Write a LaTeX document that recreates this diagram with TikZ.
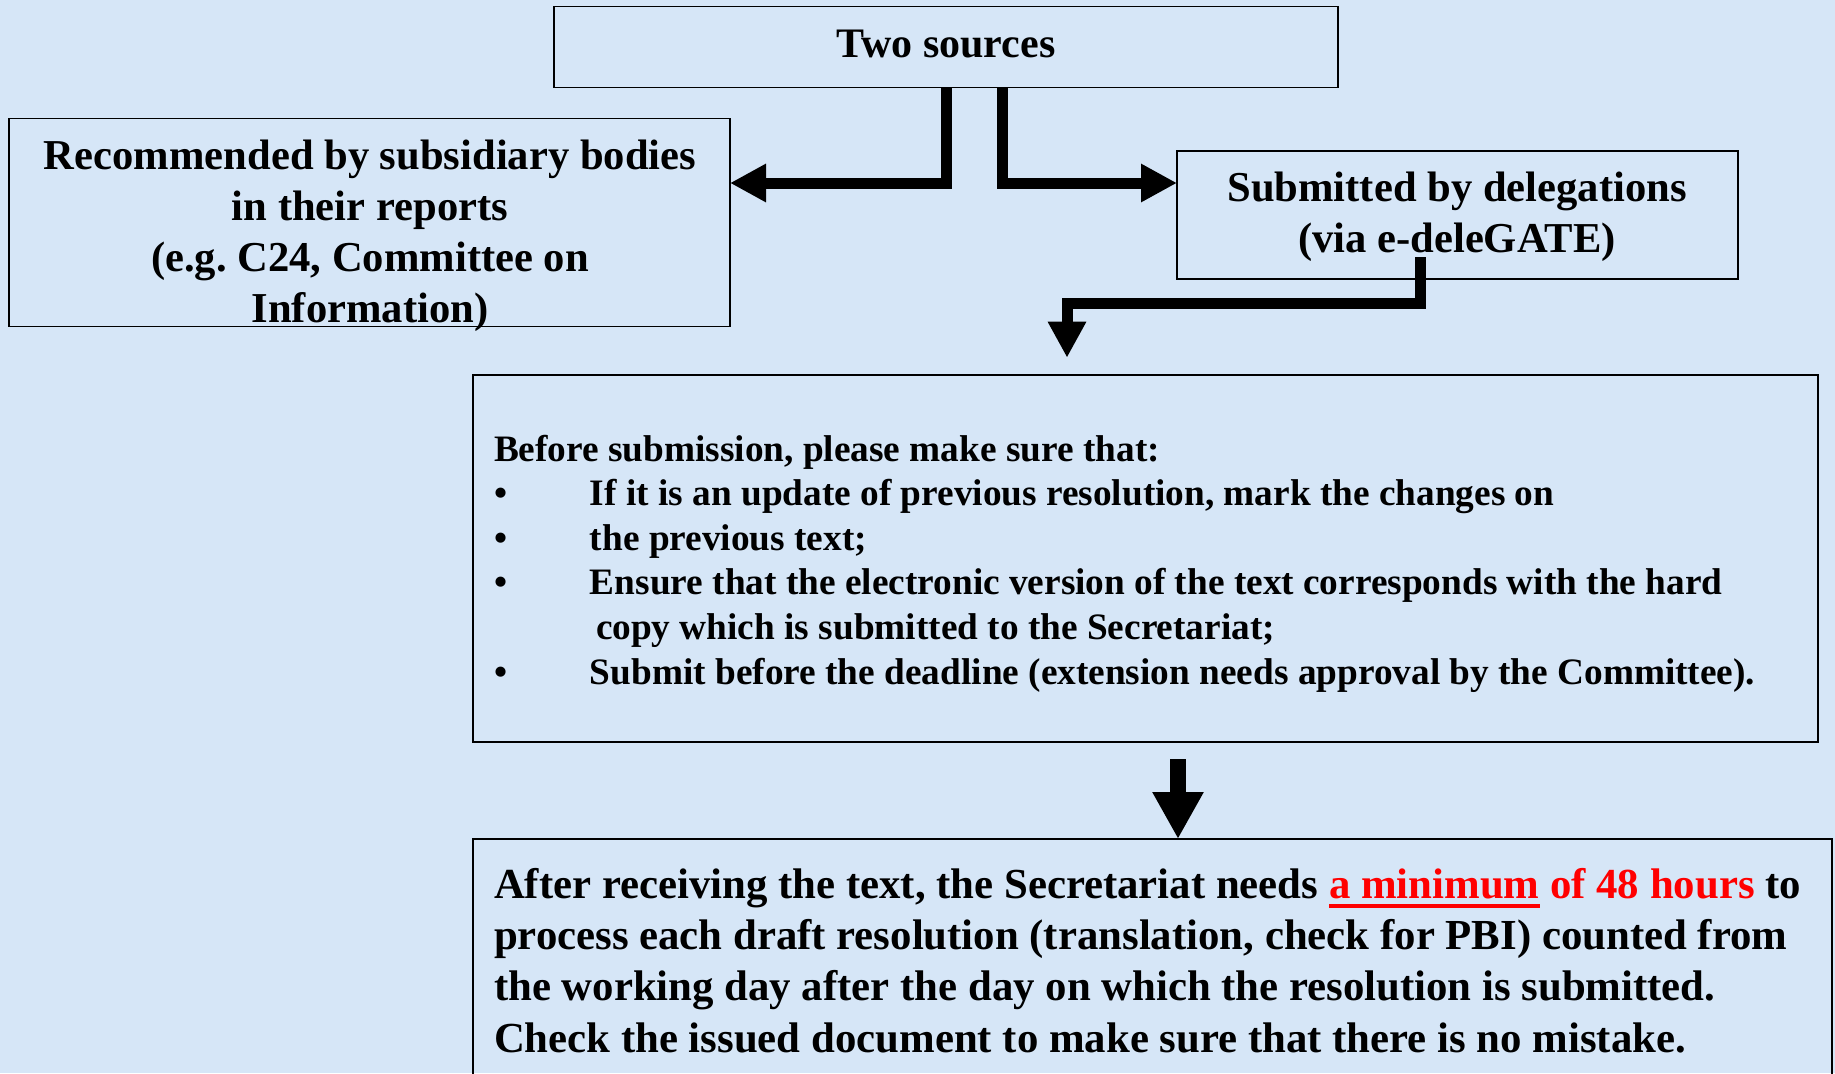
\documentclass[tikz,border=0pt]{standalone}
\usepackage{fontspec}
\setmainfont{Liberation Serif}
\usetikzlibrary{arrows.meta,calc}
\definecolor{bgblue}{RGB}{214,230,247}
\definecolor{hired}{RGB}{255,0,0}
\newcommand{\bul}{\makebox[96pt][l]{\textbullet}}
\newsavebox{\mybox}
\newcommand{\thickul}[1]{\sbox{\mybox}{#1}\rlap{\rule[-10pt]{\wd\mybox}{4.3pt}}\usebox{\mybox}}
\frenchspacing
\begin{document}
\begin{tikzpicture}[x=1pt,y=-1pt,
  box/.style={draw=black, line width=1.5pt, inner sep=0pt, outer sep=0pt},
  txt/.style={inner sep=0pt, outer sep=0pt, text=black},
  bigfont/.style={font=\bfseries\fontsize{42.6}{51}\selectfont},
  flowarrow/.style={line width=11pt, line join=miter, draw=black, -{Triangle[length=36pt,width=36pt]}},
  bigarrow/.style={line width=16pt, line join=miter, draw=black, -{Triangle[length=47pt,width=48pt]}}]
\useasboundingbox (0,0) rectangle (1835,1073);
\fill[bgblue] (0,0) rectangle (1835,1073);
\clip (0,0) rectangle (1835,1073);

% boxes
\node[box, minimum width=784pt, minimum height=80.6pt] (two) at (946,47) {};
\node[box, minimum width=721pt, minimum height=208pt] (left) at (369.5,222.5) {};
\node[box, minimum width=561pt, minimum height=128pt] (right) at (1457.5,215) {};
\node[box, minimum width=1345pt, minimum height=367pt] (mid) at (1145.5,558.5) {};
\node[box, minimum width=1359pt, minimum height=246pt] (bot) at (1152.5,962) {};

% texts
\node[txt, font=\bfseries\fontsize{42}{51}\selectfont] (twotext) at (946,44.5) {Two sources};
\node[txt, bigfont, anchor=north, align=center] (lefttext) at (370,133.3)
  {\strut Recommended by subsidiary bodies\\in their reports\\(e.g. C24, Committee on\\Information)};
\node[txt, bigfont, anchor=north, align=center] (righttext) at (1457,165.6)
  {\strut Submitted by delegations\\(via e-deleGATE)};
\node[txt, font=\bfseries\fontsize{37.3}{44.6}\selectfont, anchor=north west, align=left] (midtext) at (494,429.8)
  {\strut Before submission, please make sure that:\\
   \bul If it is an update of previous resolution, mark the changes on\\
   \bul the previous text;\\
   \bul Ensure that the electronic version of the text corresponds with the hard\\
   \hspace*{102pt}copy which is submitted to the Secretariat;\\
   \bul Submit before the deadline (extension needs approval by the Committee).};
\node[txt, font=\bfseries\fontsize{42.8}{51.3}\selectfont, anchor=north west, align=left] (bottext) at (494,862.4)
  {\strut After receiving the text, the Secretariat needs {\color{hired}\thickul{a minimum} of 48 hours} to\\
   process each draft resolution (translation, check for PBI) counted from\\
   the working day after the day on which the resolution is submitted.\\
   Check the issued document to make sure that there is no mistake.};

% connectors
\draw[flowarrow] (two.south) |- ([yshift=39.5pt]left.east);
\draw[flowarrow] ([xshift=56pt]two.south) |- ([yshift=32pt]right.west);
\draw[flowarrow] ([xshift=-37.5pt,yshift=22pt]right.south) -- ++(0,46) -| ([xshift=-78.5pt,yshift=17.3pt]mid.north);
\draw[bigarrow] ([xshift=32.5pt,yshift=-17pt]mid.south) -- ([xshift=25.5pt]bot.north);
\end{tikzpicture}
\end{document}
